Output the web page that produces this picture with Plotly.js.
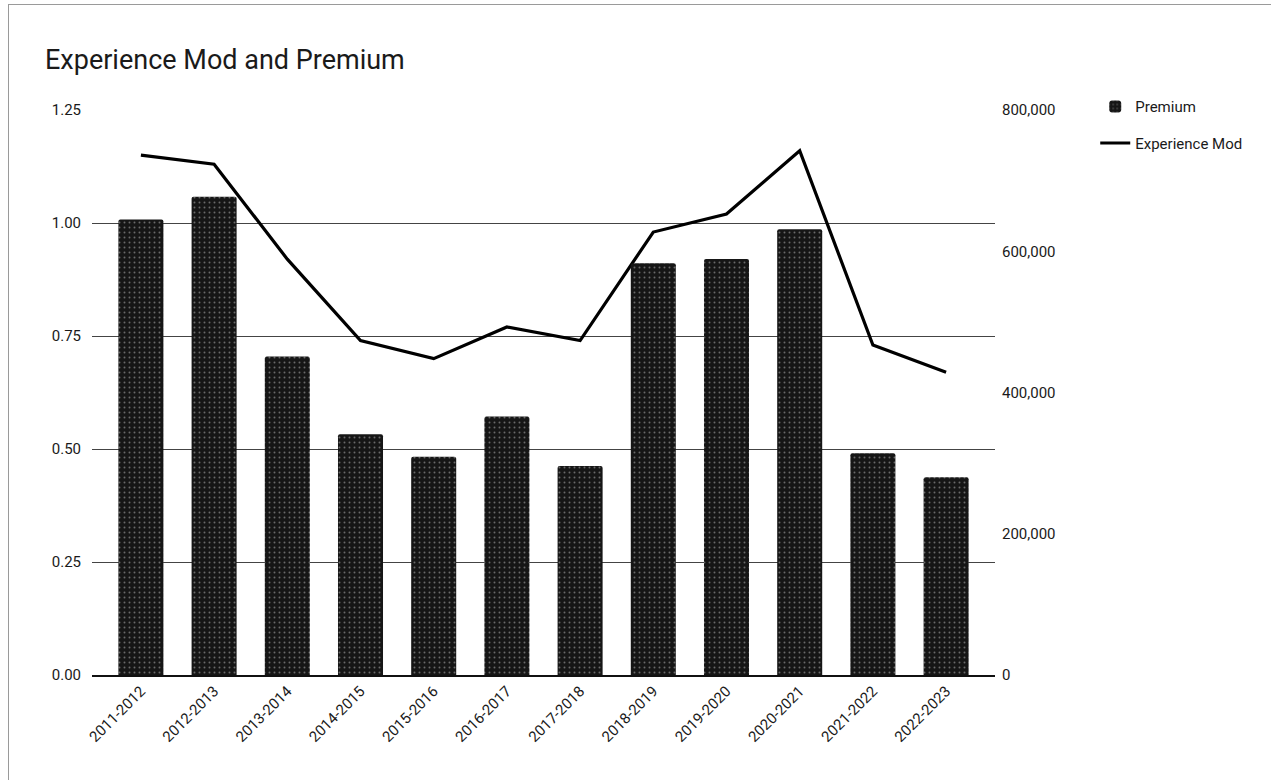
<!DOCTYPE html>
<html>
<head>
<meta charset="utf-8">
<script src="https://cdn.plot.ly/plotly-3.0.1.min.js"></script>
<style>
  html, body { margin: 0; padding: 0; background: #fff; }
  #chart { width: 1271px; height: 780px; }
  #frame { position: absolute; left: 8px; top: 4px; width: 1300px; height: 800px;
           border-left: 1px solid #9a9a9a; border-top: 1px solid #9a9a9a; pointer-events: none; }
</style>
</head>
<body>
<div id="chart"></div>
<div id="frame"></div>
<script>
const categories = ["2011-2012","2012-2013","2013-2014","2014-2015","2015-2016","2016-2017",
                    "2017-2018","2018-2019","2019-2020","2020-2021","2021-2022","2022-2023"];
const premium = [645000, 677000, 451000, 341000, 309000, 366000, 296000, 583000, 589000, 631000, 314000, 280000];
const experienceMod = [1.15, 1.13, 0.92, 0.74, 0.70, 0.77, 0.74, 0.98, 1.02, 1.16, 0.73, 0.67];
const leftTicks = [0, 0.25, 0.5, 0.75, 1.0, 1.25];
const rightTicks = [0, 200000, 400000, 600000, 800000];

const font = "Roboto, Arial, sans-serif";

const traces = [
  {
    type: "bar", name: "Premium", x: categories, y: premium, yaxis: "y2",
    legendgroup: "p",
    marker: {
      color: "#161616",
      line: { width: 0 },
      pattern: { shape: ".", fgcolor: "#6a6a6a", bgcolor: "#161616", size: 5, solidity: 0.12, fillmode: "replace" }
    },
    hoverinfo: "x+y"
  },
  {
    type: "scatter", mode: "lines", name: "Experience Mod", x: categories, y: experienceMod,
    legendgroup: "e",
    line: { color: "#000", width: 3.2 },
    hoverinfo: "x+y"
  }
];

const layout = {
  width: 1271, height: 780,
  margin: { l: 92, r: 276, t: 110, b: 105 },
  paper_bgcolor: "#fff", plot_bgcolor: "#fff",
  font: { family: font, size: 15, color: "#1a1a1a" },
  title: {
    text: "Experience Mod and Premium",
    font: { family: font, size: 27, color: "#1a1a1a" },
    xref: "container", yref: "container",
    x: 45 / 1271, xanchor: "left", y: 1 - 60 / 780, yanchor: "middle"
  },
  bargap: 0.385,
  barcornerradius: 2,
  showlegend: true,
  legend: {
    x: 1.111, xanchor: "left", y: 1.035, yanchor: "top",
    font: { family: font, size: 15, color: "#1a1a1a" },
    traceorder: "grouped", tracegroupgap: 14, itemwidth: 30,
    bgcolor: "rgba(0,0,0,0)"
  },
  xaxis: {
    type: "category",
    range: [-0.668, categories.length - 1 + 0.668],
    tickangle: -45,
    tickfont: { family: font, size: 15, color: "#1a1a1a" },
    showgrid: false,
    showline: true, linecolor: "#111", linewidth: 1.5,
    ticks: "", zeroline: false
  },
  yaxis: {
    range: [0, 1.25],
    tickvals: leftTicks,
    tickformat: ".2f",
    tickfont: { family: font, size: 15, color: "#1a1a1a" },
    showgrid: true, gridcolor: "#444", gridwidth: 1,
    zeroline: false, showline: false, ticks: "",
    ticklabelstandoff: 10
  },
  yaxis2: {
    overlaying: "y", side: "right",
    range: [0, 800000],
    tickvals: rightTicks,
    tickformat: ",d",
    tickfont: { family: font, size: 15, color: "#1a1a1a" },
    showgrid: false, zeroline: false, showline: false, ticks: "",
    ticklabelstandoff: 6
  }
};

Plotly.newPlot("chart", traces, layout, { displayModeBar: false, staticPlot: true });
</script>
</body>
</html>
